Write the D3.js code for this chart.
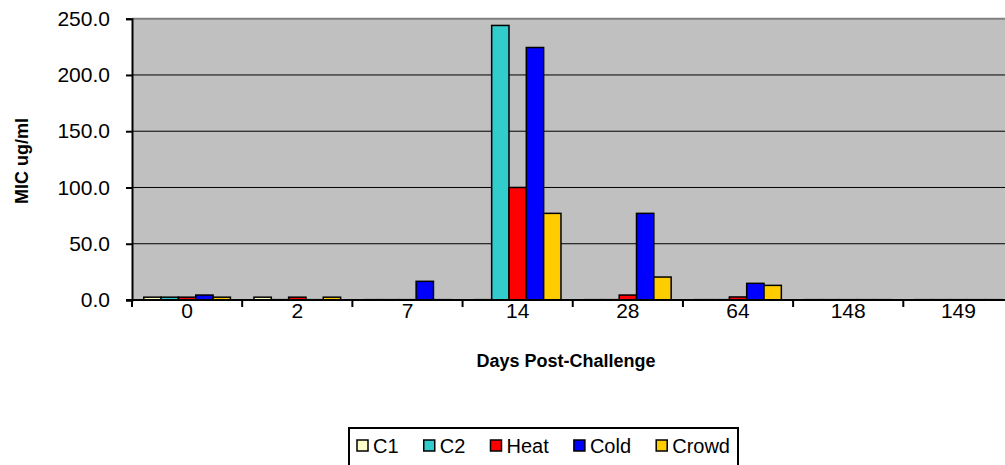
<!DOCTYPE html>
<meta charset="utf-8">
<script src="https://d3js.org/d3.v7.min.js"></script>
<style>
  body { margin: 0; background: #fff; }
  text { font-family: Arial, "Liberation Sans", sans-serif; fill: #000; }
</style>
<div id="my_dataviz"></div>
<script>

    // data
    var days = ["0", "2", "7", "14", "28", "64", "148", "149"];
    var seriesNames = ["C1", "C2", "Heat", "Cold", "Crowd"];
    var seriesColors = ["#FFFFCC", "#33CCCC", "#FF0000", "#0000FF", "#FFCC00"];
    var c1 = [2.5, 2.5, 0.3, 0.3, 0.3, 0.3, 0.3, 0.3];
    var c2 = [2.5, 0.3, 0.3, 244, 0.3, 0.3, 0.3, 0.3];
    var heat = [2.5, 2.5, 0.3, 100, 4.4, 2.7, 0.3, 0.3];
    var cold = [4.4, 0.3, 16.6, 224.4, 77, 14.8, 0.3, 0.3];
    var crowd = [2.5, 2.5, 0.3, 77, 20.4, 13, 0.3, 0.3];
    var yTicks = [0, 50, 100, 150, 200, 250];

    var series = [c1, c2, heat, cold, crowd];

    var W = 1005, H = 465;
    var plotLeft = 132, plotRight = 1013.5, plotTop = 18.7, plotBottom = 300;

    var svg = d3.select("#my_dataviz")
      .append("svg")
        .attr("width", W)
        .attr("height", H);

    var x = d3.scaleBand()
      .domain(days)
      .range([plotLeft, plotRight])
      .paddingInner(0)
      .paddingOuter(0);

    var xInner = d3.scaleBand()
      .domain(seriesNames)
      .range([0, x.bandwidth()])
      .paddingInner(0)
      .paddingOuter(0.68);

    var y = d3.scaleLinear()
      .domain([0, 250])
      .range([plotBottom, plotTop]);

    // plot background
    svg.append("rect")
      .attr("x", plotLeft).attr("y", plotTop)
      .attr("width", plotRight - plotLeft).attr("height", plotBottom - plotTop)
      .attr("fill", "#C0C0C0");

    // top border of the plot area
    svg.append("line")
      .attr("x1", plotLeft).attr("x2", plotRight)
      .attr("y1", plotTop).attr("y2", plotTop)
      .attr("stroke", "#808080").attr("stroke-width", 2);

    // gridlines
    svg.append("g")
      .selectAll("line")
      .data(yTicks.filter(function(d) { return d > 0 && d < 250; }))
      .enter().append("line")
        .attr("x1", plotLeft).attr("x2", plotRight)
        .attr("y1", function(d) { return y(d); })
        .attr("y2", function(d) { return y(d); })
        .attr("stroke", "#000").attr("stroke-width", 1);

    // bars
    var groups = svg.append("g")
      .selectAll("g")
      .data(days)
      .enter().append("g")
        .attr("transform", function(d) { return "translate(" + x(d) + ",0)"; });

    groups.selectAll("rect")
      .data(function(d, i) {
        return seriesNames.map(function(s, j) {
          return { name: s, value: series[j][i], color: seriesColors[j] };
        });
      })
      .enter().append("rect")
        .attr("x", function(d) { return xInner(d.name); })
        .attr("y", function(d) { return y(d.value); })
        .attr("width", xInner.bandwidth())
        .attr("height", function(d) { return y(0) - y(d.value); })
        .attr("fill", function(d) { return d.color; })
        .attr("stroke", "#000")
        .attr("stroke-width", 1.5);

    // Y axis
    var yAxis = svg.append("g")
      .attr("transform", "translate(" + plotLeft + ",0)")
      .call(d3.axisLeft(y).tickValues(yTicks).tickFormat(d3.format(".1f")).tickSize(6).tickPadding(16));
    yAxis.select(".domain").attr("stroke", "#000").attr("stroke-width", 2);
    yAxis.selectAll(".tick line").attr("stroke", "#000").attr("stroke-width", 2);
    yAxis.selectAll("text")
      .style("font-size", "21px")
      .style("font-family", "Arial, 'Liberation Sans', sans-serif");

    // X axis: line and boundary ticks
    svg.append("line")
      .attr("x1", plotLeft - 6).attr("x2", plotRight)
      .attr("y1", plotBottom).attr("y2", plotBottom)
      .attr("stroke", "#000").attr("stroke-width", 2);

    svg.append("g")
      .selectAll("line")
      .data(days)
      .enter().append("line")
        .attr("x1", function(d) { return x(d); })
        .attr("x2", function(d) { return x(d); })
        .attr("y1", plotBottom).attr("y2", plotBottom + 7)
        .attr("stroke", "#000").attr("stroke-width", 2);

    svg.append("g")
      .selectAll("text")
      .data(days)
      .enter().append("text")
        .attr("x", function(d) { return x(d) + x.bandwidth() / 2; })
        .attr("y", 318)
        .attr("text-anchor", "middle")
        .style("font-size", "21px")
        .text(function(d) { return d; });

    // axis titles
    svg.append("text")
      .attr("x", 566).attr("y", 367)
      .attr("text-anchor", "middle")
      .style("font-size", "18px")
      .style("font-weight", "bold")
      .text("Days Post-Challenge");

    svg.append("text")
      .attr("transform", "translate(28,161) rotate(-90)")
      .attr("text-anchor", "middle")
      .style("font-size", "18px")
      .style("font-weight", "bold")
      .text("MIC ug/ml");

    // legend
    var legend = svg.append("g");
    var boxX = 349, boxW = 389;
    legend.append("rect")
      .attr("x", boxX).attr("y", 428)
      .attr("width", boxW).attr("height", 45)
      .attr("fill", "#fff")
      .attr("stroke", "#000").attr("stroke-width", 2);

    var item = legend.selectAll("g.item")
      .data(seriesNames)
      .enter().append("g")
        .attr("class", "item");
    item.append("rect")
      .attr("y", 440)
      .attr("width", 11).attr("height", 11)
      .attr("fill", function(d, i) { return seriesColors[i]; })
      .attr("stroke", "#000").attr("stroke-width", 1.5);
    var labels = item.append("text")
      .attr("x", 16).attr("y", 453)
      .style("font-size", "20px")
      .text(function(d) { return d; });

    // spread the entries evenly inside the box
    var widths = [];
    labels.each(function() { widths.push(this.getComputedTextLength()); });
    var inner = boxW - 16;
    var used = d3.sum(widths) + widths.length * 16;
    var gap = (inner - used) / (widths.length - 1);
    var pos = boxX + 8;
    item.each(function(d, i) {
      d3.select(this).attr("transform", "translate(" + pos + ",0)");
      pos += 16 + widths[i] + gap;
    });

</script>
